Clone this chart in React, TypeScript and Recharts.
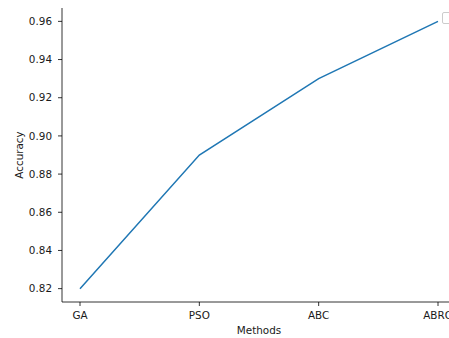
import { Line, LineChart, XAxis, YAxis } from 'recharts';

const methods = ['GA', 'PSO', 'ABC', 'ABRO'];
const accuracy = [0.82, 0.89, 0.93, 0.96];
const yTicks = [0.82, 0.84, 0.86, 0.88, 0.9, 0.92, 0.94, 0.96];

const data = methods.map((m, i) => ({ method: m, accuracy: accuracy[i] }));

const font = { fontFamily: 'DejaVu Sans', fontSize: 10.4, fill: '#1a1a1a' };

function YLabel({ viewBox }: any) {
  const cy = viewBox.y + viewBox.height / 2;
  return (
    <text
      x={19}
      y={cy}
      transform={`rotate(-90, 19, ${cy})`}
      textAnchor="middle"
      dominantBaseline="central"
      {...font}
    >
      Accuracy
    </text>
  );
}

export default function App() {
  return (
    <div
      style={{
        position: 'absolute',
        left: 0,
        top: 0,
        width: 449,
        height: 338,
        overflow: 'hidden',
        background: '#fff',
      }}
    >
      <LineChart
        width={470}
        height={338}
        data={data}
        margin={{ top: 8, right: 14, left: 0, bottom: 0 }}
      >
        <XAxis
          dataKey="method"
          padding={{ left: 18, right: 18 }}
          height={36}
          tickSize={4}
          tickMargin={6}
          tick={font}
          axisLine={{ stroke: '#000', strokeWidth: 0.8 }}
          tickLine={{ stroke: '#000', strokeWidth: 0.8 }}
          label={{ value: 'Methods', position: 'insideBottom', offset: 4, ...font }}
        />
        <XAxis
          xAxisId="top"
          orientation="top"
          dataKey="method"
          height={0}
          tick={false}
          tickLine={false}
          axisLine={{ stroke: '#000', strokeWidth: 0.8 }}
        />
        <YAxis
          width={62}
          domain={[0.813, 0.967]}
          ticks={yTicks}
          tickFormatter={(v: number) => v.toFixed(2)}
          tickSize={4}
          tickMargin={6}
          tick={font}
          axisLine={{ stroke: '#000', strokeWidth: 0.8 }}
          tickLine={{ stroke: '#000', strokeWidth: 0.8 }}
          allowDataOverflow
          label={<YLabel />}
        />
        <Line
          type="linear"
          dataKey="accuracy"
          stroke="#1f77b4"
          strokeWidth={1.5}
          dot={false}
          isAnimationActive={false}
        />
      </LineChart>
      {/* empty legend frame peeking in at the right edge */}
      <div
        style={{
          position: 'absolute',
          left: 442,
          top: 12,
          width: 20,
          height: 10,
          border: '1px solid #cccccc',
          borderRadius: 2,
          background: 'rgba(255,255,255,0.8)',
        }}
      />
    </div>
  );
}
